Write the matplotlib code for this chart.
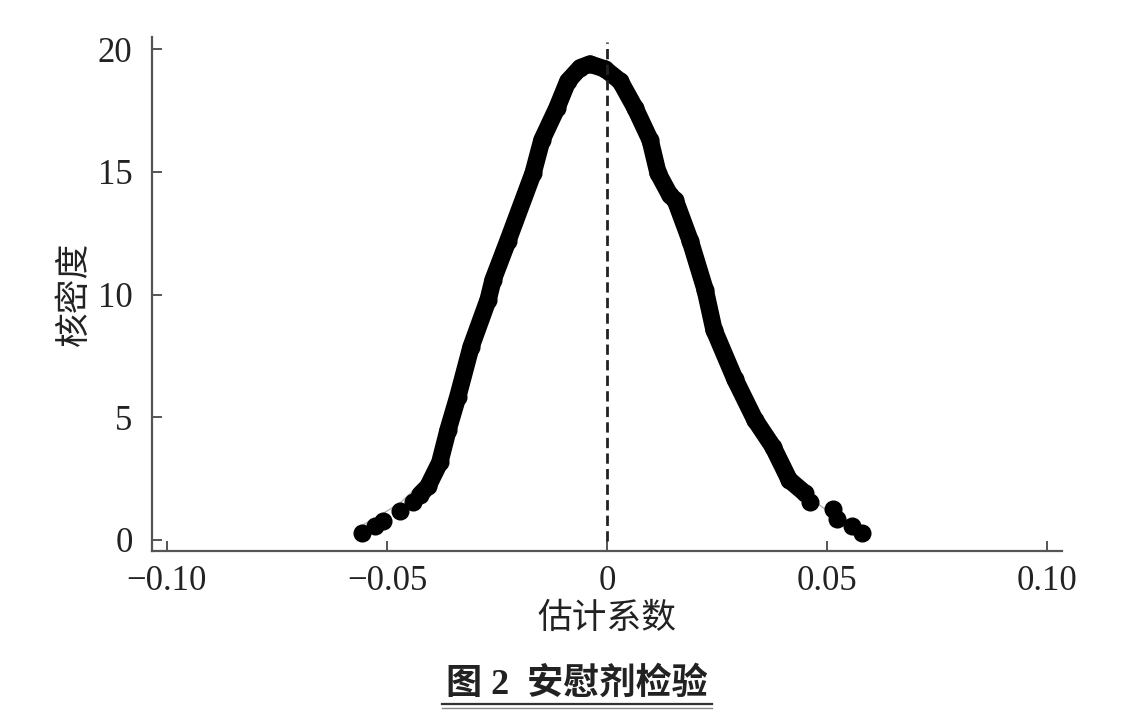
import numpy as np
import matplotlib
matplotlib.use('Agg')
import matplotlib.pyplot as plt
from matplotlib.lines import Line2D

plt.rcParams['font.family'] = ['Liberation Serif', 'Noto Sans CJK SC', 'DejaVu Sans']
plt.rcParams['axes.unicode_minus'] = True

# kernel density of placebo coefficient estimates
coef = [-0.0557, -0.0527, -0.0509, -0.0470, -0.0441, -0.0425, -0.0407, -0.0380,
        -0.0361, -0.0339, -0.0309, -0.0270, -0.0259, -0.0225, -0.0168, -0.0148,
        -0.0114, -0.0089, -0.0061, -0.0039, -0.0005, 0.0030, 0.0064, 0.0098,
        0.0116, 0.0143, 0.0155, 0.0189, 0.0223, 0.0243, 0.0291, 0.0336,
        0.0377, 0.0414, 0.0450, 0.0461, 0.0514, 0.0523, 0.0557, 0.0580]
density = [0.27, 0.55, 0.76, 1.16, 1.53, 1.85, 2.18, 3.16,
           4.50, 5.84, 7.87, 9.80, 10.60, 12.20, 14.95, 16.30,
           17.60, 18.70, 19.25, 19.40, 19.20, 18.70, 17.60, 16.30,
           14.95, 14.05, 13.85, 12.20, 10.20, 8.57, 6.54, 4.90,
           3.80, 2.45, 1.90, 1.53, 1.28, 0.84, 0.55, 0.30]

# thin grey reference curve
ref_x = [-0.0557, -0.0516, -0.0470, -0.0425, -0.0391, -0.0340, -0.0270, -0.0200,
         -0.0120, -0.0040, 0.0040, 0.0120, 0.0200, 0.0260, 0.0314, 0.0359,
         0.0416, 0.0466, 0.0507, 0.0552, 0.0580]
ref_y = [0.59, 1.00, 1.51, 2.26, 3.20, 5.60, 9.80, 13.60,
         17.40, 19.30, 18.90, 15.60, 12.00, 8.60, 5.50, 4.10,
         2.66, 1.65, 1.10, 0.75, 0.55]

xticks = [-0.10, -0.05, 0, 0.05, 0.10]
xtick_labels = ['\u22120.10', '\u22120.05', '0', '0.05', '0.10']
yticks = [0, 5, 10, 15, 20]

# dense part of the curve (dots overlap into a band), tails show single dots
dense = slice(5, 35)

fig = plt.figure(figsize=(11.41, 7.19), dpi=100)
ax = fig.add_axes([0.1332, 0.2337, 0.7976, 0.7148])

ax.plot(ref_x, ref_y, color='#b0b0b0', lw=1.0, zorder=1)
ax.plot(coef[dense], density[dense], color='black', lw=12.5, solid_capstyle='round',
        solid_joinstyle='round', zorder=2)
ax.plot(coef, density, 'o', color='black', ms=12, zorder=3)
ax.axvline(0, ymin=0.02, ymax=0.99, color='#222222', lw=2, dashes=(3.7, 1.9), zorder=4)

ax.set_xlim(-0.1034, 0.1034)
ax.set_ylim(-0.45, 20.5)
ax.set_xticks(xticks)
ax.set_xticklabels(xtick_labels)
ax.set_yticks(yticks)

for s in ['top', 'right']:
    ax.spines[s].set_visible(False)
for s in ['left', 'bottom']:
    ax.spines[s].set_color('#555555')
    ax.spines[s].set_linewidth(1.6)

ax.tick_params(direction='in', length=7, width=1.4, color='#555555',
               labelsize=25, labelcolor='#222222')
ax.tick_params(axis='y', pad=14)
ax.tick_params(axis='x', pad=10)

ax.set_xlabel('估计系数', fontsize=25, family=['Noto Sans CJK SC'], color='#222222', labelpad=2)
ax.set_ylabel('核密度', fontsize=25, family=['Noto Sans CJK SC'], color='#222222', labelpad=4)

fig.text(0.506, 0.048, '图 2  安慰剂检验', ha='center', va='center', fontsize=26,
         fontweight='bold', color='#222222')
fig.add_artist(Line2D([442 / 1141, 712 / 1141], [1 - 704 / 719, 1 - 704 / 719],
                      color='#333333', lw=1.6))
fig.add_artist(Line2D([442 / 1141, 712 / 1141], [1 - 708 / 719, 1 - 708 / 719],
                      color='#888888', lw=1.0))

fig.savefig('out.png', dpi=100, facecolor='white')
